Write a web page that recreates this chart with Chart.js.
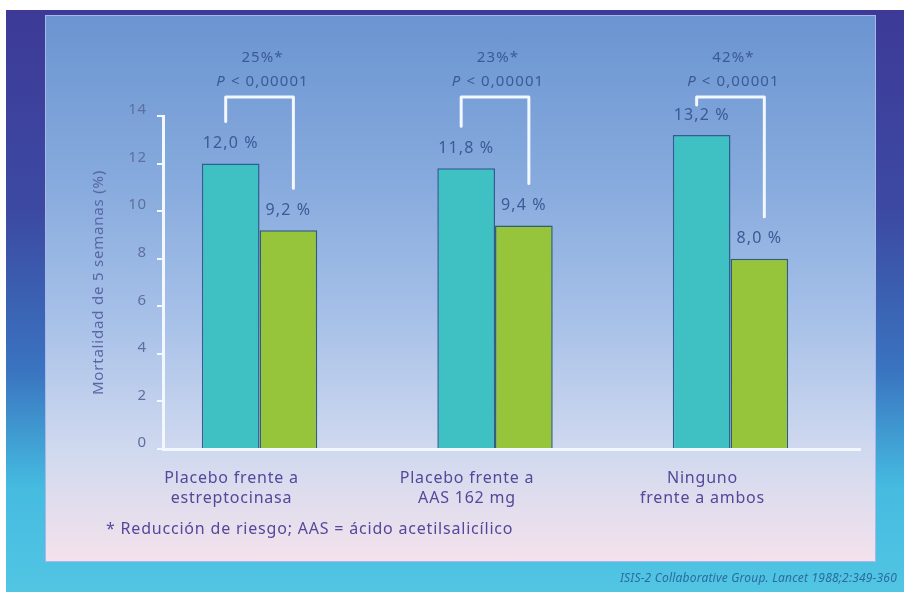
<!DOCTYPE html>
<html>
<head>
<meta charset="utf-8">
<title>Mortalidad de 5 semanas - ISIS-2</title>
<script src="https://cdn.jsdelivr.net/npm/chart.js@4"></script>
<style>
  html, body { margin: 0; padding: 0; background: #fff; }
  #wrap { position: relative; width: 904px; height: 592px; overflow: hidden; background: #fff; }
  #frame {
    position: absolute; left: 6px; top: 10px; right: 0; bottom: 0;
    background: linear-gradient(to bottom, #3d3a97 0%, #3c4aa3 35%, #3a74c0 62%, #45bbe0 82%, #52c5e3 100%);
  }
  #panel {
    position: absolute; left: 45px; top: 15px; width: 831px; height: 547px;
    box-sizing: border-box; border: 1px solid #a9b6ea;
    background: linear-gradient(to bottom, #6b95d1 0%, #86aadd 30%, #a6c0e8 55%, #d0d9ef 80%, #f4e2ec 100%);
  }
  #chart { position: absolute; left: 0; top: 0; }
  #note {
    position: absolute; left: 106px; top: 517px;
    font: 16px "Noto Sans", sans-serif; letter-spacing: 0.8px; color: #55479a; white-space: nowrap;
  }
  #cite {
    position: absolute; right: 7px; top: 569px;
    font: italic 12px "Noto Sans", sans-serif; letter-spacing: 0.2px; color: #2b6c9f; white-space: nowrap;
  }
</style>
</head>
<body>
<div id="wrap">
  <div id="frame"></div>
  <div id="panel"></div>
  <canvas id="chart" width="904" height="592"></canvas>
  <div id="note">* Reducción de riesgo; AAS = ácido acetilsalicílico</div>
  <div id="cite">ISIS-2 Collaborative Group. Lancet 1988;2:349-360</div>
</div>
<script>
// 5-week mortality (%) per comparison: control arm vs treated arm
const categories = [
    ['Placebo frente a', 'estreptocinasa'],
    ['Placebo frente a', 'AAS 162 mg'],
    ['Ninguno', 'frente a ambos']
];
const groupPos = [1, 2, 3];
const controlRates = [12.0, 11.8, 13.2];
const treatedRates = [9.2, 9.4, 8.0];
const reductions = ['25%*', '23%*', '42%*'];
const pValues = ['< 0,00001', '< 0,00001', '< 0,00001'];
const yTicks = [0, 2, 4, 6, 8, 10, 12, 14];

const FONT = '"Noto Sans", sans-serif';
const TEXT_BLUE = '#3b5a97';

function fmt(v) {
    return v.toFixed(1).replace('.', ',') + ' %';
}

// wide tracking for all canvas text
const tracking = {
    id: 'tracking',
    beforeLayout(chart) { chart.ctx.letterSpacing = '0.8px'; },
    beforeDraw(chart) { chart.ctx.letterSpacing = '0.8px'; }
};

// value labels over the bars, brackets and the risk reduction notes
const barNotes = {
    id: 'barNotes',
    afterDatasetsDraw(chart) {
        const ctx = chart.ctx;
        const control = chart.getDatasetMeta(0).data;
        const treated = chart.getDatasetMeta(1).data;
        const top = chart.chartArea.top - 19;
        ctx.save();
        ctx.letterSpacing = '1.1px';
        ctx.textAlign = 'center';
        ctx.textBaseline = 'middle';
        ctx.fillStyle = TEXT_BLUE;
        ctx.font = '16px ' + FONT;
        chart.data.datasets.forEach((ds, di) => {
            chart.getDatasetMeta(di).data.forEach((bar, i) => {
                ctx.fillText(fmt(ds.data[i].y), bar.x, bar.y - 20);
            });
        });

        ctx.strokeStyle = '#f3f7ff';
        ctx.lineWidth = 3;
        ctx.lineJoin = 'round';
        ctx.lineCap = 'round';
        groupPos.forEach((g, i) => {
            const a = control[i], b = treated[i];
            const x1 = a.x - 5, x2 = b.x + 5;
            const y1 = Math.max(a.y - 42, top + 8);
            const y2 = Math.max(b.y - 42, top + 8);
            ctx.beginPath();
            ctx.moveTo(x1, y1);
            ctx.lineTo(x1, top);
            ctx.lineTo(x2, top);
            ctx.lineTo(x2, y2);
            ctx.stroke();

            const cx = (x1 + x2) / 2 + 3;
            ctx.font = '15px ' + FONT;
            ctx.textAlign = 'center';
            ctx.fillText(reductions[i], cx, top - 39);

            // italic P followed by the threshold
            const rest = ' ' + pValues[i];
            ctx.font = 'italic 15px ' + FONT;
            const wP = ctx.measureText('P').width;
            ctx.font = '15px ' + FONT;
            const wR = ctx.measureText(rest).width;
            const sx = cx - (wP + wR) / 2;
            ctx.textAlign = 'left';
            ctx.font = 'italic 15px ' + FONT;
            ctx.fillText('P', sx, top - 15);
            ctx.font = '15px ' + FONT;
            ctx.fillText(rest, sx + wP, top - 15);
            ctx.textAlign = 'center';
        });
        ctx.restore();
    }
};

new Chart(document.getElementById('chart'), {
    type: 'bar',
    data: {
        datasets: [{
            label: 'Placebo / ninguno',
            data: groupPos.map((x, i) => ({ x: x, y: controlRates[i] })),
            backgroundColor: '#3fc0c2',
            borderColor: '#2d5f90',
            borderWidth: 1.5
        }, {
            label: 'Tratamiento',
            data: groupPos.map((x, i) => ({ x: x, y: treatedRates[i] })),
            backgroundColor: '#96c43a',
            borderColor: '#2f5f70',
            borderWidth: 1.5
        }]
    },
    options: {
        responsive: false,
        animation: false,
        categoryPercentage: 0.49,
        barPercentage: 1.0,
        layout: { padding: { left: 0, top: 116, right: 44, bottom: 83 } },
        plugins: {
            legend: { display: false },
            tooltip: { enabled: false }
        },
        scales: {
            x: {
                type: 'linear',
                offset: false,
                min: 0.59,
                max: 3.55,
                afterBuildTicks: s => { s.ticks = groupPos.map(v => ({ value: v })); },
                afterFit: s => { s.height = 60; },
                grid: { display: false, drawTicks: false, offset: false },
                border: { display: true, color: '#f3f7ff', width: 3 },
                ticks: {
                    autoSkip: false,
                    maxRotation: 0,
                    padding: 19,
                    labelOffset: -28,
                    color: '#55479a',
                    font: { family: FONT, size: 16, lineHeight: 1.25 },
                    callback: (v, i) => categories[i]
                }
            },
            y: {
                min: 0,
                max: 14,
                afterBuildTicks: s => { s.ticks = yTicks.map(v => ({ value: v })); },
                afterFit: s => { s.width = 163; },
                grid: { drawOnChartArea: false, color: '#f3f7ff', lineWidth: 2, tickLength: 6 },
                border: { color: '#f3f7ff', width: 3 },
                ticks: {
                    padding: 10,
                    labelOffset: -6,
                    color: '#5f6f9f',
                    font: { family: FONT, size: 15 }
                },
                title: {
                    display: true,
                    text: 'Mortalidad de 5 semanas (%)',
                    color: '#5a66a6',
                    font: { family: FONT, size: 15 },
                    padding: { top: 90, bottom: 0 }
                }
            }
        }
    },
    plugins: [tracking, barNotes]
});
</script>
</body>
</html>
